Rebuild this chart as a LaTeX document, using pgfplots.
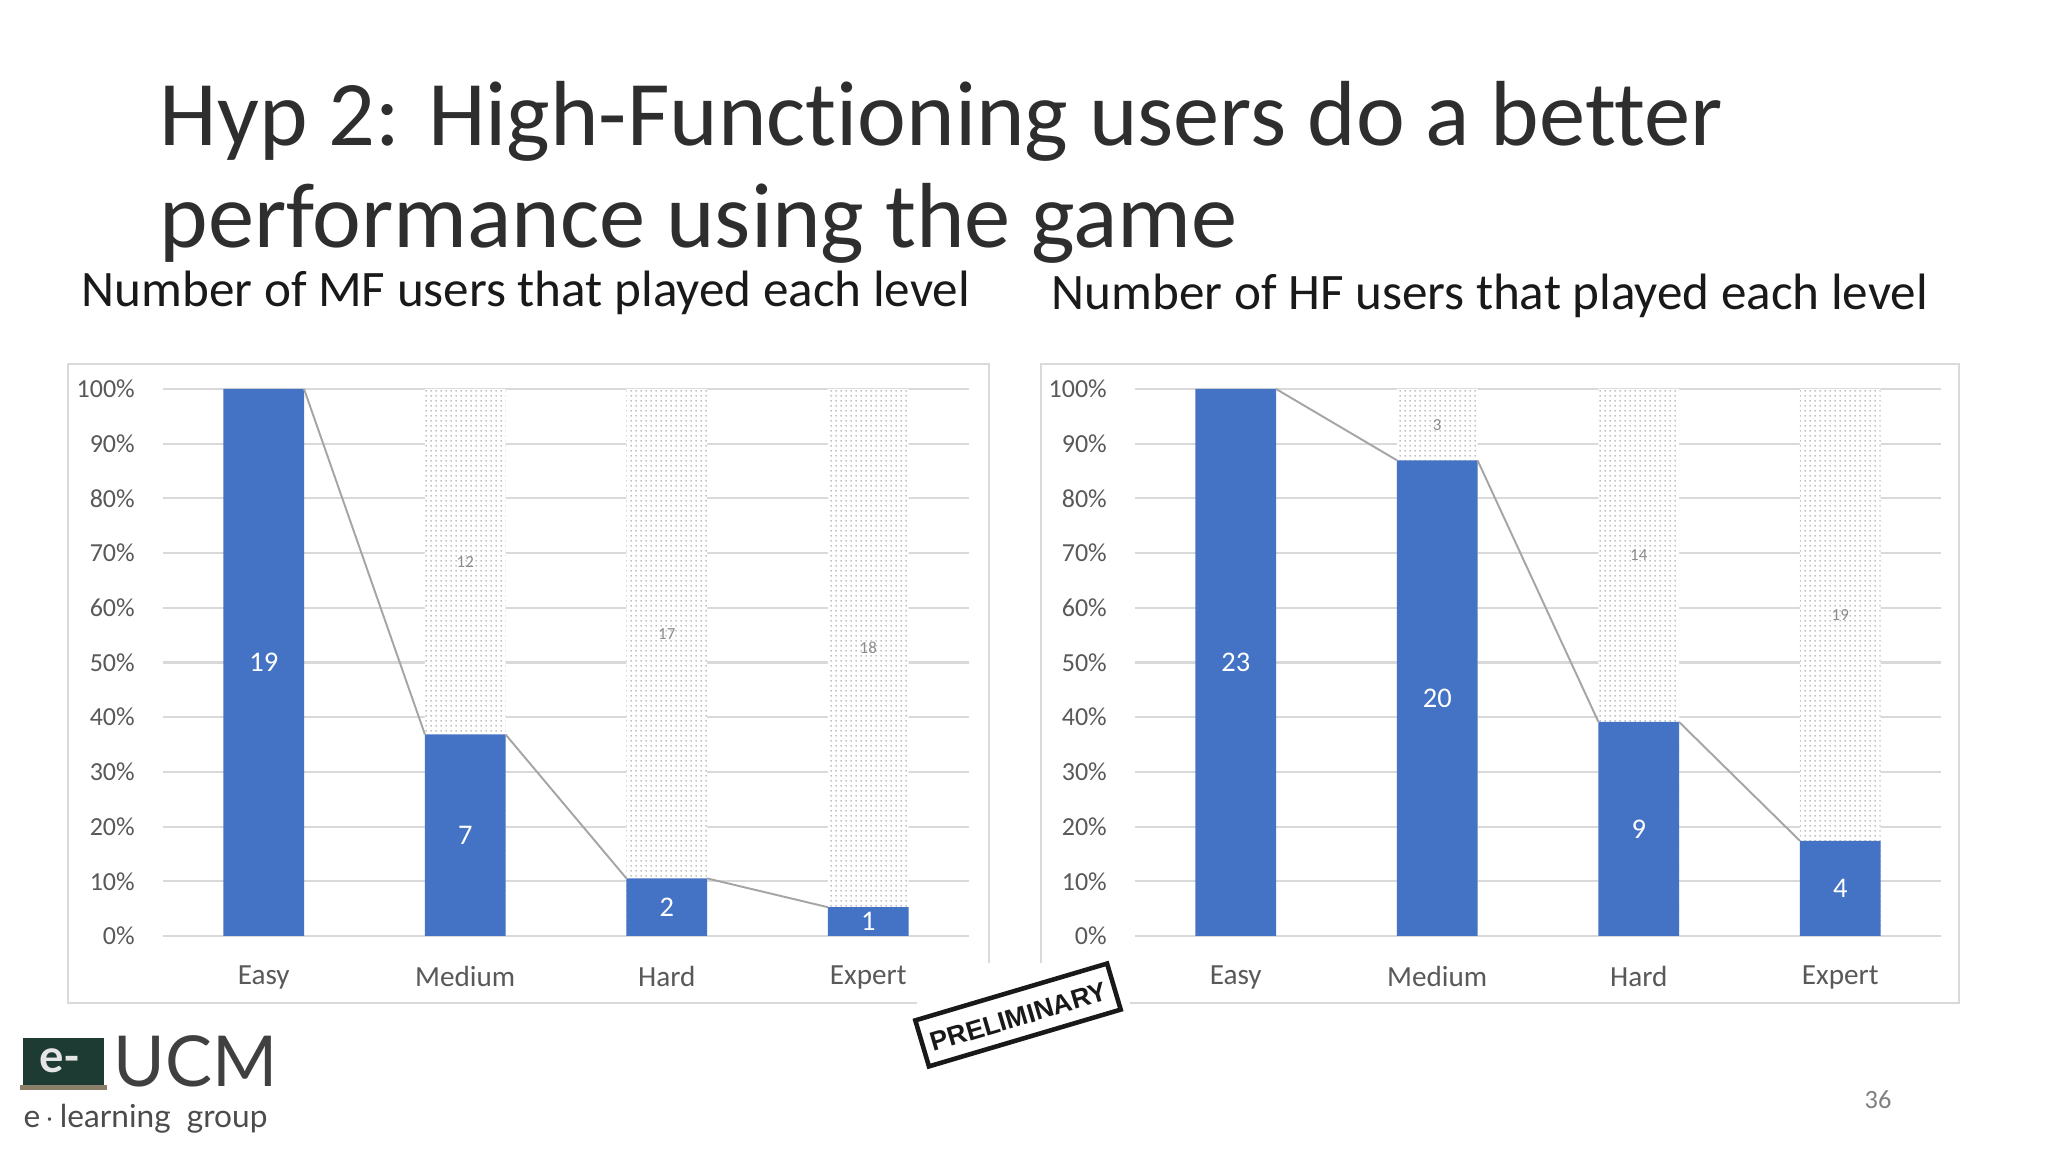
\documentclass[border=0pt]{standalone}
\usepackage{pgfplots}
\pgfplotsset{compat=1.18}
\usepackage{fontspec}
\setmainfont{Carlito}[Ligatures={NoCommon}]
\newfontfamily\stampfont{Liberation Sans}
\newfontfamily\logofont{Lato}
\usetikzlibrary{patterns.meta}
\definecolor{xblue}{HTML}{4472C4}
\definecolor{xgrid}{HTML}{D9D9D9}
\definecolor{xtext}{HTML}{595959}
\definecolor{xline}{HTML}{A5A5A5}
\definecolor{board}{HTML}{1E3B33}
\definecolor{tray}{HTML}{8C7F6A}

\tikzdeclarepattern{
  name=finedots,
  type=uncolored,
  bounding box={(0pt,0pt) and (1.3pt,1.3pt)},
  tile size={(1.3pt,1.3pt)},
  code={\pgfpathcircle{\pgfpoint{0.65pt}{0.65pt}}{0.27pt}\pgfusepath{fill}}
}

\pgfplotsset{
  mychart/.style={
    scale only axis, width=80.6mm, height=54.7mm,
    anchor=south west,
    xmin=-0.5, xmax=3.5, ymin=0, ymax=100,
    axis line style={draw=none},
    major tick length=0pt,
    ymajorgrids, grid style={xgrid, line width=0.6pt},
    ytick={0,10,...,100},
    yticklabels={0\%,10\%,20\%,30\%,40\%,50\%,60\%,70\%,80\%,90\%,100\%},
    xtick={0,1,2,3},
    xticklabels={Easy,Medium,Hard,Expert},
    yticklabel style={font=\fontsize{7.4}{8}\selectfont, text=xtext, xshift=-4.5pt},
    xticklabel style={font=\fontsize{8.3}{9}\selectfont, text=xtext, yshift=-5pt},
    clip=false,
  },
  whitebar/.style={ybar, bar width=0.4, bar shift=0pt, draw=none, fill=white},
  dotbar/.style={ybar, bar width=0.4, bar shift=0pt, draw=none, pattern={finedots}, pattern color=black!32},
  bluebar/.style={ybar, bar width=0.4, bar shift=0pt, draw=none, fill=xblue},
  serline/.style={xline, line width=0.55pt},
  bluelab/.style={draw=none, mark=none, nodes near coords, point meta=explicit symbolic,
    nodes near coords align={center},
    nodes near coords style={anchor=center, font=\fontsize{8.1}{9}\selectfont, text=white}},
  greylab/.style={draw=none, mark=none, nodes near coords, point meta=explicit symbolic,
    nodes near coords align={center},
    nodes near coords style={anchor=center, font=\fontsize{4.8}{5}\selectfont, text=black!45}},
}

\begin{document}
\begin{tikzpicture}[x=0.1mm,y=0.1mm]
\path[use as bounding box, fill=white] (0,0) rectangle (2048,1152);

% titles
\node[anchor=base west, inner sep=0, font=\fontsize{26.3}{30}\selectfont, text=black!82] at (159,1006) {Hyp 2: High-Functioning users do a better};
\node[anchor=base west, inner sep=0, font=\fontsize{26.3}{30}\selectfont, text=black!82] at (159,904) {performance using the game};
\node[anchor=base west, inner sep=0, font=\fontsize{14.55}{17}\selectfont, text=black!90] at (81,845) {Number of MF users that played each level};
\node[anchor=base west, inner sep=0, font=\fontsize{14.55}{17}\selectfont, text=black!90] at (1051,842) {Number of HF users that played each level};

% chart frames
\draw[xgrid, line width=0.8pt] (68,149) rectangle (989,788);
\draw[xgrid, line width=0.8pt] (1041,149) rectangle (1959,788);

% MF chart
\begin{axis}[mychart, at={(16.3mm,21.6mm)}]
\addplot[whitebar] coordinates {(1,100) (2,100) (3,100)};
\addplot[dotbar] coordinates {(1,100) (2,100) (3,100)};
\addplot[bluebar] coordinates {(0,100) (1,36.84) (2,10.53) (3,5.26)};
\addplot[serline] coordinates {(0.2,100) (0.8,36.84)};
\addplot[serline] coordinates {(1.2,36.84) (1.8,10.53)};
\addplot[serline] coordinates {(2.2,10.53) (2.8,5.26)};
\addplot[bluelab] coordinates {(0,50)[19] (1,18.42)[7] (2,5.26)[2] (3,2.63)[1]};
\addplot[greylab] coordinates {(1,68.42)[12] (2,55.26)[17] (3,52.63)[18]};
\end{axis}

% HF chart
\begin{axis}[mychart, at={(113.5mm,21.6mm)}]
\addplot[whitebar] coordinates {(1,100) (2,100) (3,100)};
\addplot[dotbar] coordinates {(1,100) (2,100) (3,100)};
\addplot[bluebar] coordinates {(0,100) (1,86.96) (2,39.13) (3,17.39)};
\addplot[serline] coordinates {(0.2,100) (0.8,86.96)};
\addplot[serline] coordinates {(1.2,86.96) (1.8,39.13)};
\addplot[serline] coordinates {(2.2,39.13) (2.8,17.39)};
\addplot[bluelab] coordinates {(0,50)[23] (1,43.48)[20] (2,19.57)[9] (3,8.70)[4]};
\addplot[greylab] coordinates {(1,93.48)[3] (2,69.57)[14] (3,58.70)[19]};
\end{axis}

% PRELIMINARY stamp
\fill[white] (917,77) rectangle (1130,189);
\begin{scope}[shift={(1018,137)}, rotate=16.5]
\draw[line width=1.3pt, black!90] (-100,-24) rectangle (100,24);
\node[rotate=16.5, font=\stampfont\bfseries\fontsize{7.6}{8}\selectfont, text=black!90] at (0,-2) {PRELIMINARY};
\end{scope}

% logo
\fill[tray] (20,62) rectangle (107,67);
\fill[board] (23,67) rectangle (104,114);
\node[text=white!80!gray, font=\logofont\bfseries\fontsize{13}{13}\selectfont, inner sep=0] at (60,91) {e-};
\node[anchor=base west, inner sep=0, text=black!75, font=\logofont\fontsize{20}{21}\selectfont] at (113,65) {UCM};
\node[anchor=base west, inner sep=0, text=black!70, font=\logofont\fontsize{9}{10}\selectfont] at (23,24) {e\,$\cdot$\,learning\ \ group};

% page number
\node[text=black!50, font=\fontsize{7.5}{8}\selectfont] at (1878,52) {36};
\end{tikzpicture}
\end{document}
